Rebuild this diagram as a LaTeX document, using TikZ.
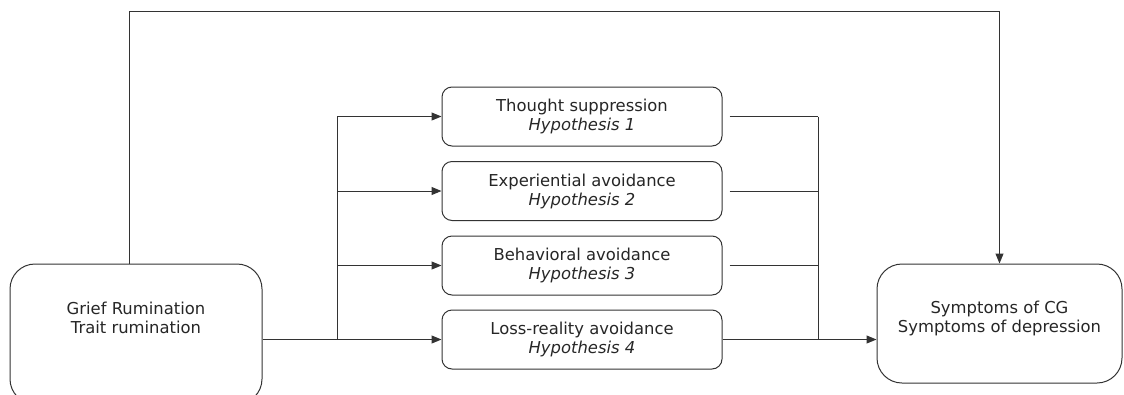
\documentclass[tikz,border=0pt]{standalone}
\usepackage{fontspec}
\setmainfont{DejaVu Sans}
\usetikzlibrary{arrows.meta}
\tikzset{
  line/.style={draw=black!80, line width=1pt},
  arr/.style={line, -{Triangle[length=10pt,width=8pt]}},
  hypbox/.style={line, rounded corners=10pt, minimum width=280pt, minimum height=59pt, inner sep=0pt, align=center, text=black!85},
  bigbox/.style={line, rounded corners=25pt, inner sep=0pt},
  boxtext/.style={align=center, text=black!85, inner sep=0pt}
}
\begin{document}
\begin{tikzpicture}[x=1pt, y={(0,-1pt)}, font=\fontsize{16.4}{19}\selectfont]
\useasboundingbox (0,0) rectangle (1124,394);
% outer boxes
\node[bigbox, minimum width=252pt, minimum height=140pt] (grief) at (136,334) {};
\node[boxtext] (grieftxt) at (136,318) {Grief Rumination\\Trait rumination};
\node[bigbox, minimum width=245pt, minimum height=119pt] (symp) at (999.5,323.5) {};
\node[boxtext] (symptxt) at (999.5,318) {Symptoms of CG\\Symptoms of depression};
% mediators
\node[hypbox] (h1) at (582,116.5) {Thought suppression\\\textit{Hypothesis 1}};
\node[hypbox] (h2) at (582,191) {Experiential avoidance\\\textit{Hypothesis 2}};
\node[hypbox] (h3) at (582,265.5) {Behavioral avoidance\\\textit{Hypothesis 3}};
\node[hypbox] (h4) at (582,339.5) {Loss-reality avoidance\\\textit{Hypothesis 4}};
\coordinate (lbus) at (337,0);
\coordinate (rbus) at (818,0);
% left side
\draw[line] (grief.east |- h4) -- (lbus |- h4);
\draw[line] (lbus |- h1) -- (lbus |- h4);
\foreach \h in {h1,h2,h3,h4}
  \draw[arr] (lbus |- \h) -- (\h.west);
% right side
\foreach \h in {h1,h2,h3}
  \draw[line] ([xshift=7pt]\h.east) -- (rbus |- \h);
\draw[line] (rbus |- h1) -- (rbus |- h4);
\draw[arr] (h4.east) -- (symp.west |- h4);
% direct path
\draw[arr] ([xshift=-7pt]grief.north) -- ++(0,-252) -| (symp.north);
\end{tikzpicture}
\end{document}
